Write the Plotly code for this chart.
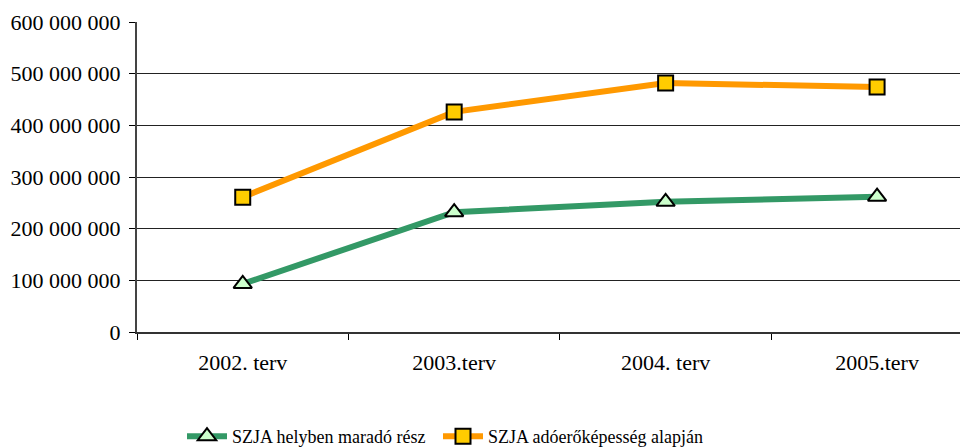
import plotly.graph_objects as go

categories = ["2002. terv", "2003.terv", "2004. terv", "2005.terv"]
helyben = [93000000, 232000000, 252000000, 262000000]
adoero = [261000000, 426000000, 482000000, 474000000]
y_ticks = [0, 100000000, 200000000, 300000000, 400000000, 500000000, 600000000]
y_tick_labels = ["0", "100 000 000", "200 000 000", "300 000 000", "400 000 000", "500 000 000", "600 000 000"]

font = "Liberation Serif, Times New Roman, serif"
fsize = 22
lsize = 18

fig = go.Figure()
fig.add_trace(go.Scatter(
    x=categories, y=helyben, mode="lines+markers", name="SZJA helyben maradó rész",
    line=dict(color="#339966", width=6), legend="legend",
    marker=dict(symbol="triangle-up", size=16, color="#CCFFCC", line=dict(color="black", width=2)),
))
fig.add_trace(go.Scatter(
    x=categories, y=adoero, mode="lines+markers", name="SZJA adóerőképesség alapján",
    line=dict(color="#FF9900", width=6), legend="legend2",
    marker=dict(symbol="square", size=15, color="#FFCC00", line=dict(color="black", width=2)),
))

# page body has an 8px margin; figure is sized/offset to compensate
leg_common = dict(orientation="h", xref="container", yref="container", xanchor="left",
                  y=1 - 410 / 440, yanchor="top", font=dict(family=font, size=lsize),
                  itemwidth=40, bgcolor="rgba(0,0,0,0)")
fig.update_layout(
    width=960, height=440,
    margin=dict(l=129, r=0, t=14, b=116, autoexpand=False),
    paper_bgcolor="white", plot_bgcolor="white",
    font=dict(family=font, size=fsize, color="black"),
    showlegend=True,
    legend=dict(x=174 / 960, **leg_common),
    legend2=dict(x=430 / 960, **leg_common),
)
fig.update_xaxes(
    type="category", range=[-0.5, 3.43],
    showline=True, linecolor="#333333", linewidth=2,
    ticks="outside", tickson="boundaries", ticklen=6, tickcolor="black", tickwidth=1,
    showgrid=False, ticklabelstandoff=10, tickfont=dict(family=font, size=fsize),
)
fig.update_yaxes(
    range=[0, 600000000], tickvals=y_ticks, ticktext=y_tick_labels,
    showline=True, linecolor="#444444", linewidth=2,
    ticks="outside", ticklen=6, tickcolor="black", tickwidth=1,
    showgrid=True, gridcolor="#222222", gridwidth=1, zeroline=False,
    tickfont=dict(family=font, size=fsize), ticklabelstandoff=4,
)

fig.write_html("out.html")
